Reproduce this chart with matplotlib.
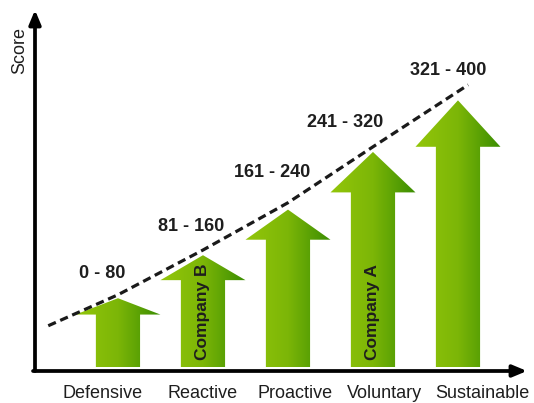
import numpy as np
import matplotlib
matplotlib.use('Agg')
import matplotlib.pyplot as plt
from matplotlib.patches import Polygon
from matplotlib.colors import LinearSegmentedColormap
from matplotlib.transforms import blended_transform_factory

plt.rcParams['font.family'] = ['Liberation Sans', 'DejaVu Sans']

# data
categories = ['Defensive', 'Reactive', 'Proactive', 'Voluntary', 'Sustainable']
arrow_tops = [80, 130, 183, 250, 310]
head_sizes = [19, 29, 35, 47, 54]
ranges = ['0 - 80', '81 - 160', '161 - 240', '241 - 320', '321 - 400']
trend_x = [-0.82, 0, 1, 2, 3, 4.12]
trend_y = [48, 84, 136, 191, 256, 328]
companies = {'Company B': 1, 'Company A': 3}

W, H = 534, 403
fig = plt.figure(figsize=(W / 100, H / 100), dpi=100)
ax = fig.add_axes([35 / W, (H - 371) / H, (527 - 35) / W, (371 - 10) / H])
ax.set_xlim(-0.976, 4.812)
ax.set_ylim(-4.6, 415)
ax.axis('off')

cmap = LinearSegmentedColormap.from_list('grn', ['#93c60a', '#7cb607', '#3a8d02'])
grad = np.linspace(0, 1, 256).reshape(1, -1)
shaft_hw = 0.26
head_hw = 0.5

for i, (top, hh) in enumerate(zip(arrow_tops, head_sizes)):
	base = top - hh
	pts = [
		(i - shaft_hw, 0), (i + shaft_hw, 0), (i + shaft_hw, base),
		(i + head_hw, base), (i, top), (i - head_hw, base), (i - shaft_hw, base),
	]
	poly = Polygon(pts, closed=True, facecolor='none', edgecolor='none')
	ax.add_patch(poly)
	im = ax.imshow(grad, cmap=cmap, aspect='auto',
		extent=(i - head_hw, i + head_hw, 0, top), zorder=2)
	im.set_clip_path(poly)

# dashed trend line
ax.plot(trend_x, trend_y, color='#1a1a1a', lw=2.3, dashes=(2.6, 1.5), zorder=3)

# range labels
range_pos = [(-0.188, 109), (0.859, 163), (1.81, 226), (2.67, 284), (3.88, 345)]
for txt, (x, y) in zip(ranges, range_pos):
	ax.text(x, y, txt, ha='center', va='center', fontsize=13,
		fontweight='bold', color='#1e1e1e')

# company labels inside shafts
for name, idx in companies.items():
	ax.text(idx, 64, name, ha='center', va='center', rotation=90,
		fontsize=12.5, fontweight='bold', color='#1e1e1e', zorder=4)

# category labels
cat_x = [-0.176, 1.0, 2.08, 3.13, 4.29]
tr = blended_transform_factory(ax.transData, fig.transFigure)
for name, x in zip(categories, cat_x):
	ax.text(x, (H - 393) / H, name, transform=tr, ha='center', va='center',
		fontsize=13, color='#1e1e1e')

fig.text(20 / W, 1 - 51 / H, 'Score', rotation=90, ha='center', va='center',
	fontsize=13, color='#1e1e1e')

# axis arrows
astyle = dict(arrowstyle='-|>,head_length=0.6,head_width=0.25', lw=2.7,
	color='black', mutation_scale=14, shrinkA=0, shrinkB=0)
ax.annotate('', xy=(0, 1), xytext=(0, 0), xycoords='axes fraction',
	textcoords='axes fraction', arrowprops=astyle, annotation_clip=False)
ax.annotate('', xy=(1, 0), xytext=(-0.004, 0), xycoords='axes fraction',
	textcoords='axes fraction', arrowprops=astyle, annotation_clip=False)

fig.savefig('out.png', dpi=100)
